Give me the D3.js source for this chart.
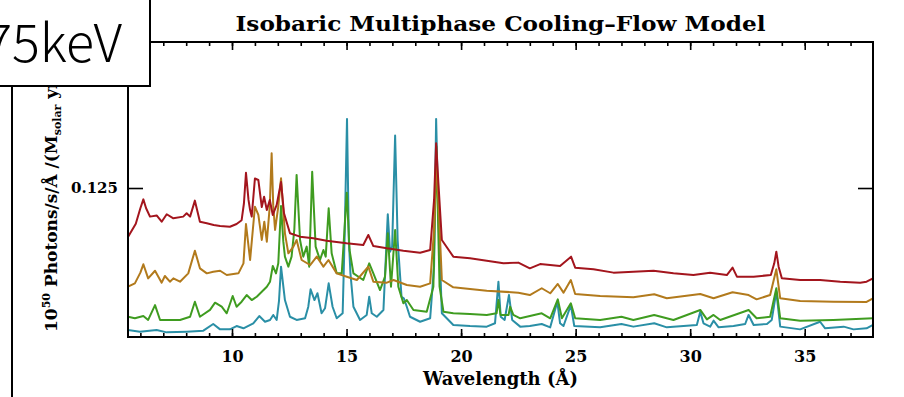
<!DOCTYPE html>
<html>
<head>
<meta charset="utf-8">
<script src="https://cdn.jsdelivr.net/npm/d3@7"></script>
<style>
  body { margin: 0; background: #fff; }
  svg { display: block; }
  .serif { font-family: "DejaVu Serif", "Liberation Serif", serif; font-weight: bold; }
</style>
</head>
<body>
<div id="chart"></div>
<script>
// spectra: [wavelength (Å), flux]
const redSpec = [[5.46,0.084],[5.8,0.095],[6.0,0.108],[6.13,0.1155],[6.25,0.108],[6.42,0.101],[6.71,0.102],[6.93,0.0967],[7.15,0.103],[7.44,0.0996],[7.87,0.101],[8.02,0.1038],[8.17,0.101],[8.38,0.1144],[8.6,0.0967],[8.9,0.0954],[9.2,0.094],[9.48,0.0931],[9.91,0.0925],[10.2,0.0948],[10.42,0.098],[10.52,0.112],[10.61,0.1378],[10.72,0.115],[10.79,0.1065],[10.86,0.101],[11.0,0.133],[11.15,0.1317],[11.3,0.109],[11.4,0.1177],[11.52,0.1065],[11.65,0.115],[11.78,0.1024],[11.95,0.1108],[12.14,0.130],[12.27,0.1038],[12.53,0.087],[12.97,0.0842],[13.55,0.0828],[14.13,0.0808],[15.0,0.0786],[15.73,0.0772],[15.95,0.0856],[16.17,0.0763],[16.76,0.0744],[17.48,0.0724],[18.21,0.0707],[18.65,0.073],[18.82,0.115],[18.91,0.1625],[19.01,0.129],[19.16,0.0814],[19.66,0.0674],[20.39,0.066],[21.12,0.064],[21.85,0.0618],[22.5,0.0624],[23.0,0.0576],[23.45,0.0612],[24.32,0.0596],[24.8,0.0674],[24.98,0.0582],[25.78,0.0568],[26.65,0.054],[27.52,0.0548],[28.4,0.0556],[29.27,0.0534],[30.14,0.052],[30.87,0.054],[31.6,0.052],[31.85,0.0582],[32.04,0.0506],[32.77,0.0506],[33.52,0.052],[33.67,0.0618],[33.76,0.0716],[33.86,0.059],[34.0,0.0492],[34.8,0.0478],[35.67,0.0478],[36.55,0.0464],[37.42,0.0456],[37.7,0.0464],[37.98,0.0492]];

const brownSpec = [[5.46,0.0422],[5.76,0.045],[6.0,0.054],[6.13,0.061],[6.34,0.0492],[6.64,0.0556],[6.93,0.0456],[7.07,0.0512],[7.29,0.0464],[7.44,0.0492],[7.73,0.0464],[8.09,0.0534],[8.38,0.0724],[8.6,0.0576],[8.9,0.0534],[9.18,0.0548],[9.48,0.0556],[9.77,0.052],[10.28,0.0534],[10.5,0.0618],[10.61,0.0948],[10.79,0.0646],[11.0,0.1093],[11.15,0.1024],[11.3,0.0814],[11.41,0.0967],[11.52,0.08],[11.65,0.11],[11.73,0.1541],[11.8,0.11],[11.88,0.0898],[12.02,0.1093],[12.14,0.1332],[12.31,0.087],[12.46,0.0702],[12.68,0.0758],[12.82,0.0814],[13.04,0.0646],[13.41,0.0604],[13.7,0.0674],[13.99,0.059],[14.21,0.0646],[14.57,0.0534],[15.01,0.0506],[15.45,0.0478],[15.95,0.059],[16.17,0.0464],[16.76,0.0456],[17.05,0.0478],[17.63,0.0436],[18.21,0.0422],[18.65,0.045],[18.82,0.09],[18.92,0.152],[19.02,0.11],[19.16,0.0478],[19.66,0.0417],[21.12,0.0389],[22.5,0.0372],[23.0,0.0352],[23.52,0.0409],[23.89,0.0367],[24.22,0.0445],[24.47,0.0372],[24.79,0.0478],[24.98,0.0361],[26.07,0.0344],[27.52,0.0333],[28.43,0.0358],[28.98,0.0325],[30.44,0.0361],[31.02,0.0325],[31.85,0.0375],[32.55,0.0352],[32.9,0.0316],[33.49,0.0352],[33.76,0.0568],[33.93,0.0325],[34.8,0.0302],[36.25,0.0296],[37.7,0.0294],[37.98,0.0325]];

const greenSpec = [[5.46,0.017],[5.76,0.0157],[6.13,0.0176],[6.34,0.0143],[6.64,0.0268],[6.86,0.0143],[7.73,0.0143],[8.17,0.017],[8.38,0.0296],[8.6,0.017],[9.04,0.0227],[9.26,0.0288],[9.55,0.0254],[9.77,0.0199],[10.03,0.0344],[10.2,0.0254],[10.42,0.0296],[10.64,0.0352],[10.86,0.031],[11.08,0.0338],[11.3,0.038],[11.52,0.0422],[11.66,0.0464],[11.78,0.0596],[11.92,0.0534],[12.02,0.0618],[12.14,0.11],[12.24,0.08],[12.31,0.0674],[12.46,0.059],[12.6,0.0674],[12.72,0.09],[12.82,0.136],[12.97,0.0814],[13.11,0.0674],[13.26,0.0758],[13.37,0.059],[13.5,0.1387],[13.65,0.0758],[13.84,0.0646],[13.99,0.073],[14.09,0.0674],[14.22,0.108],[14.35,0.0702],[14.57,0.0534],[14.79,0.0534],[14.9,0.087],[15.01,0.1211],[15.13,0.073],[15.3,0.0534],[15.73,0.0478],[15.99,0.0618],[16.17,0.0534],[16.46,0.0394],[16.68,0.0506],[16.8,0.087],[16.94,0.0422],[17.12,0.0898],[17.26,0.0422],[17.48,0.0283],[17.63,0.031],[17.92,0.0227],[18.5,0.0212],[18.79,0.0422],[18.92,0.16],[19.06,0.0422],[19.23,0.0212],[19.66,0.0199],[20.39,0.0193],[21.12,0.0185],[21.55,0.0199],[21.63,0.031],[21.72,0.0185],[22.07,0.0185],[22.14,0.0254],[22.28,0.0185],[22.58,0.0157],[23.52,0.0199],[23.89,0.0157],[24.22,0.0316],[24.4,0.0157],[24.79,0.0283],[24.98,0.0157],[26.07,0.0143],[27.0,0.017],[27.52,0.0143],[28.43,0.0185],[29.27,0.0143],[30.44,0.0227],[30.73,0.0148],[31.02,0.0185],[31.31,0.0143],[32.55,0.0227],[32.9,0.0157],[33.49,0.017],[33.76,0.0409],[33.93,0.0157],[34.8,0.0137],[36.25,0.0143],[37.98,0.0157]];

const tealSpec = [[5.46,0.0059],[5.98,0.0045],[6.71,0.0059],[7.15,0.0039],[8.02,0.0045],[8.75,0.0053],[9.18,0.0109],[9.48,0.0064],[9.91,0.0064],[10.2,0.0092],[10.5,0.0073],[10.93,0.0115],[11.19,0.0176],[11.44,0.0128],[11.66,0.0143],[11.8,0.0185],[11.95,0.0143],[12.05,0.03],[12.14,0.059],[12.31,0.031],[12.53,0.017],[12.82,0.0143],[13.19,0.0157],[13.33,0.0254],[13.43,0.04],[13.6,0.031],[13.73,0.0367],[13.91,0.0199],[14.06,0.0241],[14.22,0.045],[14.39,0.0254],[14.57,0.0157],[14.83,0.0199],[14.92,0.087],[15.02,0.183],[15.1,0.0814],[15.17,0.0534],[15.3,0.0254],[15.59,0.0143],[15.88,0.0185],[15.99,0.0338],[16.1,0.0199],[16.32,0.017],[16.61,0.0227],[16.8,0.103],[16.9,0.0716],[16.99,0.0758],[17.12,0.169],[17.23,0.0814],[17.4,0.0338],[17.5,0.0325],[17.63,0.0254],[17.77,0.017],[18.21,0.0128],[18.65,0.0157],[18.82,0.059],[18.91,0.183],[19.01,0.101],[19.16,0.0199],[19.66,0.0101],[20.39,0.0092],[21.12,0.0087],[21.48,0.0115],[21.63,0.0464],[21.73,0.017],[21.9,0.0143],[22.09,0.0352],[22.23,0.0143],[22.58,0.0087],[23.0,0.0092],[23.52,0.0109],[23.89,0.0081],[24.2,0.0296],[24.32,0.0115],[24.47,0.0092],[24.79,0.0268],[24.94,0.0092],[26.07,0.0081],[27.0,0.0109],[27.52,0.0087],[28.43,0.0115],[28.98,0.0081],[30.29,0.0101],[30.44,0.0212],[30.58,0.0115],[30.87,0.0087],[31.02,0.0137],[31.24,0.0081],[31.89,0.0092],[32.4,0.0109],[32.55,0.0185],[32.77,0.0101],[33.35,0.0109],[33.56,0.0143],[33.76,0.038],[33.93,0.0087],[34.8,0.0064],[35.67,0.0128],[35.89,0.0073],[36.7,0.0087],[37.13,0.0064],[37.7,0.0073],[37.98,0.0101]];

const xMajorTicks = [10, 15, 20, 25, 30, 35];
const xMinorTicks = d3.range(6, 38);
const yTicks = [0.125];
const titleText = "Isobaric Multiphase Cooling\u2013Flow Model";
const xLabel = "Wavelength (\u00c5)";
const boxLabel = "75keV";

// drawn back to front
const series = [
    { data: tealSpec, color: "#2a8fa6" },
    { data: greenSpec, color: "#3f9c20" },
    { data: brownSpec, color: "#b27a1c" },
    { data: redSpec, color: "#a3151d" }
];

const width = 904, height = 397;
const margin = { top: 42, right: 31, bottom: 60, left: 128 };
const innerW = width - margin.left - margin.right;
const innerH = height - margin.top - margin.bottom;

const svg = d3.select("#chart").append("svg")
    .attr("width", width)
    .attr("height", height);

const x = d3.scaleLinear().domain([5.46, 37.98]).range([0, innerW]);
const y = d3.scaleLinear().domain([0, 0.2475]).range([innerH, 0]);

const g = svg.append("g").attr("transform", `translate(${margin.left},${margin.top})`);

g.append("clipPath").attr("id", "plot-clip")
    .append("rect").attr("width", innerW).attr("height", innerH);

const line = d3.line().x(d => x(d[0])).y(d => y(d[1]));

g.append("g").attr("clip-path", "url(#plot-clip)")
    .selectAll("path")
    .data(series)
    .enter().append("path")
    .attr("d", d => line(d.data))
    .attr("fill", "none")
    .attr("stroke", d => d.color)
    .attr("stroke-width", 2)
    .attr("stroke-linejoin", "round");

// axes: ticks point inward, mirrored top/right
const tickStyle = sel => {
    sel.select(".domain").remove();
    sel.selectAll("line").attr("stroke", "#000").attr("stroke-width", 1.6);
};

g.append("g")
    .attr("transform", `translate(0,${innerH})`)
    .call(d3.axisBottom(x).tickValues(xMinorTicks).tickSize(-4).tickFormat(""))
    .call(tickStyle);
g.append("g")
    .attr("transform", `translate(0,${innerH})`)
    .call(d3.axisBottom(x).tickValues(xMajorTicks).tickSize(-8).tickPadding(14).tickFormat(d3.format("d")))
    .call(tickStyle)
    .selectAll("text")
    .attr("class", "serif")
    .attr("font-size", 16)
    .attr("fill", "#000");
g.append("g")
    .call(d3.axisTop(x).tickValues(xMinorTicks).tickSize(-4).tickFormat(""))
    .call(tickStyle);
g.append("g")
    .call(d3.axisTop(x).tickValues(xMajorTicks).tickSize(-8).tickFormat(""))
    .call(tickStyle);

g.append("g")
    .call(d3.axisLeft(y).tickValues(yTicks).tickSize(-15).tickPadding(10).tickFormat(d3.format(".3f")))
    .call(tickStyle)
    .selectAll("text")
    .attr("class", "serif")
    .attr("font-size", 15)
    .attr("fill", "#000");
g.append("g")
    .attr("transform", `translate(${innerW},0)`)
    .call(d3.axisRight(y).tickValues(yTicks).tickSize(-15).tickFormat(""))
    .call(tickStyle);

g.append("rect")
    .attr("width", innerW).attr("height", innerH)
    .attr("fill", "none").attr("stroke", "#000").attr("stroke-width", 2);

svg.append("text")
    .attr("class", "serif")
    .attr("x", margin.left + innerW / 2)
    .attr("y", 31)
    .attr("text-anchor", "middle")
    .attr("font-size", 20)
    .attr("textLength", 530)
    .attr("lengthAdjust", "spacingAndGlyphs")
    .text(titleText);

svg.append("text")
    .attr("class", "serif")
    .attr("x", margin.left + innerW / 2)
    .attr("y", 385)
    .attr("text-anchor", "middle")
    .attr("font-size", 18)
    .text(xLabel);

// y label runs up under the label box, as in the figure
const yl = svg.append("text")
    .attr("class", "serif")
    .attr("transform", "translate(57,332) rotate(-90)")
    .attr("font-size", 17);
yl.append("tspan").text("10");
yl.append("tspan").attr("dy", -7).attr("font-size", 11).text("50");
yl.append("tspan").attr("dy", 7).text(" Photons/s/\u00c5 /(M");
yl.append("tspan").attr("dy", 4).attr("font-size", 11).text("solar");
yl.append("tspan").attr("dy", -4).text(" yr");
yl.append("tspan").attr("dy", -7).attr("font-size", 11).text("\u22121");
yl.append("tspan").attr("dy", 7).text(")");

// slide overlay: frame line and label box
svg.append("line")
    .attr("x1", 12).attr("x2", 12).attr("y1", 86).attr("y2", height)
    .attr("stroke", "#000").attr("stroke-width", 2);

svg.append("rect")
    .attr("x", -2).attr("y", -2).attr("width", 152).attr("height", 88)
    .attr("fill", "#fff").attr("stroke", "#000").attr("stroke-width", 2);

svg.append("text")
    .attr("x", 122).attr("y", 62)
    .attr("text-anchor", "end")
    .attr("font-family", "'Noto Sans CJK JP', 'Noto Sans', sans-serif")
    .attr("font-weight", 300)
    .attr("font-size", 52)
    .text(boxLabel);
</script>
</body>
</html>
